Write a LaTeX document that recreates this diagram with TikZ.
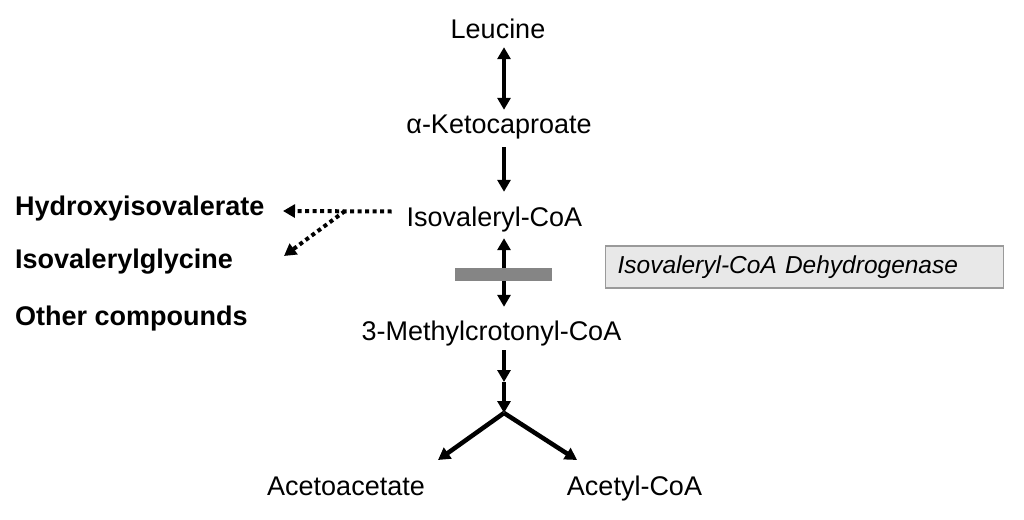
\documentclass[tikz,border=0pt]{standalone}
\usepackage{fontspec}
\setmainfont{Liberation Sans}
\usetikzlibrary{arrows.meta,calc}
\definecolor{boxfill}{HTML}{E8E8E8}
\definecolor{boxline}{HTML}{9A9A9A}
\definecolor{barcol}{HTML}{858585}
\tikzset{
  metab/.style={inner sep=0pt,anchor=base,text height=19pt,text depth=6pt,font=\fontsize{27}{30}\selectfont},
  side/.style={metab,anchor=base west,font=\fontsize{27}{30}\selectfont\bfseries},
  rxn/.style={line width=3.5pt,-{Triangle[length=12pt,width=13pt]}},
  both/.style={rxn,{Triangle[length=12pt,width=13pt]}-{Triangle[length=12pt,width=13pt]}},
  minor/.style={rxn,line width=4pt,dash pattern=on 4pt off 3.5pt},
  enzyme/.style={draw=boxline,fill=boxfill,line width=1.2pt,inner xsep=12pt,anchor=west,
    minimum height=42pt,text width=374pt,align=left,font=\fontsize{24.5}{28}\selectfont\itshape}
}
\begin{document}
\begin{tikzpicture}[x=1pt,y=-1pt]
        \useasboundingbox[fill=white] (0,0) rectangle (1024,519);
        % main pathway
        \node[metab] (leu) at (498,39) {Leucine};
        \node[metab] (keto) at (499,133) {α-Ketocaproate};
        \node[metab] (iva) at (494.5,226) {Isovaleryl-CoA};
        \node[metab] (mcc) at (491.5,340) {3-Methylcrotonyl-CoA};
        \node[metab] (acac) at (346,495) {Acetoacetate};
        \node[metab] (acoa) at (634.5,495) {Acetyl-CoA};
        % side products
        \node[side] (hiva) at (15,215) {Hydroxyisovalerate};
        \node[side] (ivg) at (15,268) {Isovalerylglycine};
        \node[side] (oth) at (15,325) {Other compounds};
        \node[enzyme] (ivd) at (605,267) {Isovaleryl-CoA Dehydrogenase};
        \coordinate (axis) at (504,0);
        \coordinate (mid) at (504,382);
        \coordinate (fork) at (504,413);
        \coordinate (actip) at (438,460);
        \coordinate (aztip) at (577,460);
        \coordinate (split) at (345,211);
        \coordinate (hvtip) at (283,211);
        \coordinate (igtip) at (284,256);
        \draw[both] ($(leu.south -| axis)+(0,2)$) -- ($(keto.north -| axis)+(0,-4)$);
        \draw[rxn] ($(keto.south -| axis)+(0,8)$) -- ($(iva.north -| axis)+(0,-15)$);
        \draw[both] ($(iva.south -| axis)+(0,6)$) -- ($(mcc.north -| axis)+(0,-14)$);
        \node[fill=barcol,minimum width=97pt,minimum height=13pt,inner sep=0pt] (bar) at (503.5,274.5) {};
        \draw[rxn] ($(mcc.south -| axis)+(0,4)$) -- (mid);
        \draw[rxn] (mid) -- (fork);
        \draw[rxn,line width=4.5pt] (fork) -- (actip);
        \draw[rxn,line width=4.5pt] (fork) -- (aztip);
        % minor routes
        \draw[minor] ($(iva.west)+(-15,-8)$) -- (hvtip);
        \draw[minor] (split) -- (igtip);
\end{tikzpicture}
\end{document}
